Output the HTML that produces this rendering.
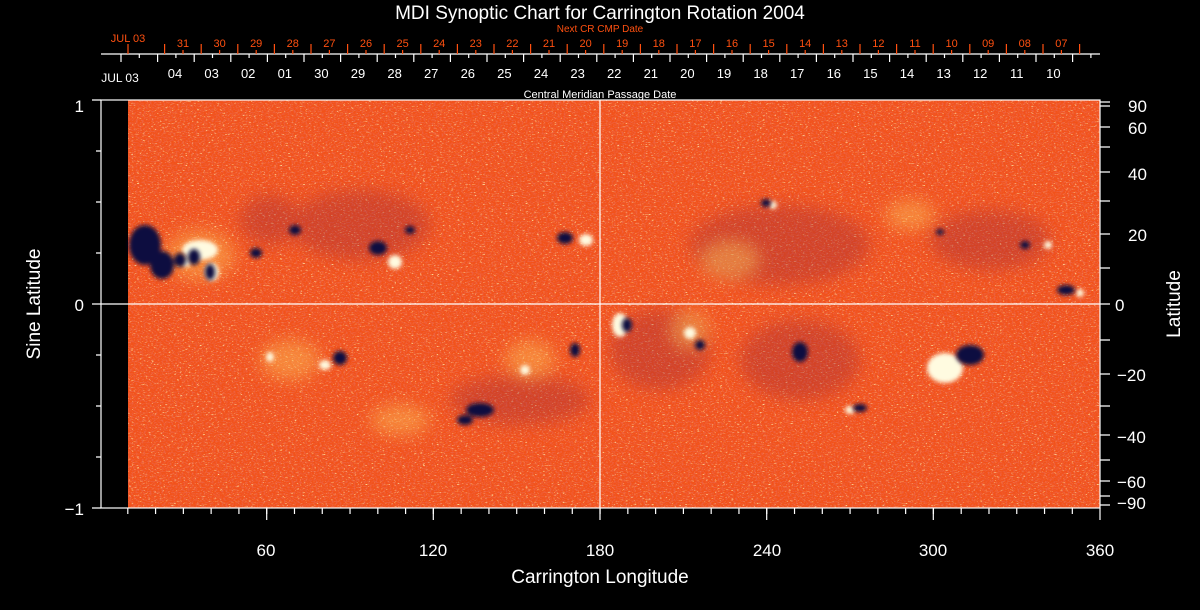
<!DOCTYPE html>
<html><head><meta charset="utf-8"><style>
html,body{margin:0;padding:0;background:#000;}
svg{display:block;font-family:"Liberation Sans",sans-serif;}
</style></head><body>
<svg width="1200" height="610" viewBox="0 0 1200 610" xmlns="http://www.w3.org/2000/svg">
<defs>
<filter id="nz" x="0" y="0" width="100%" height="100%">
<feTurbulence type="fractalNoise" baseFrequency="0.35 0.9" numOctaves="2" seed="3" result="t"/>
<feColorMatrix in="t" type="matrix" values="0 0 0 0 1  0 0 0 0 0.7  0 0 0 0 0.3  0 0 0 6 -3.9"/>
</filter>
<filter id="nz2" x="0" y="0" width="100%" height="100%">
<feTurbulence type="fractalNoise" baseFrequency="0.5 0.8" numOctaves="2" seed="9" result="t"/>
<feColorMatrix in="t" type="matrix" values="0 0 0 0 0.85  0 0 0 0 0.12  0 0 0 0 0.05  0 0 0 5 -2.3"/>
</filter>
<filter id="b1"><feGaussianBlur stdDeviation="2"/></filter>
<filter id="b3"><feGaussianBlur stdDeviation="8"/></filter>
</defs>
<rect width="1200" height="610" fill="#000"/>
<rect x="128" y="100" width="972" height="408" fill="#f2521a"/>
<rect x="128" y="100" width="972" height="408" filter="url(#nz2)"/>
<rect x="128" y="100" width="972" height="408" filter="url(#nz)"/>
<g fill="#902040" opacity="0.3" filter="url(#b3)">
<ellipse cx="360" cy="225" rx="70" ry="35"/>
<ellipse cx="780" cy="245" rx="90" ry="40"/>
<ellipse cx="800" cy="360" rx="60" ry="40"/>
<ellipse cx="520" cy="400" rx="70" ry="25"/>
<ellipse cx="660" cy="350" rx="50" ry="40"/>
<ellipse cx="990" cy="240" rx="60" ry="30"/>
<ellipse cx="270" cy="220" rx="30" ry="25"/>
</g>
<g fill="#ffd060" opacity="0.4" filter="url(#b3)">
<ellipse cx="200" cy="255" rx="35" ry="25"/>
<ellipse cx="290" cy="360" rx="30" ry="20"/>
<ellipse cx="400" cy="420" rx="30" ry="15"/>
<ellipse cx="730" cy="260" rx="30" ry="20"/>
<ellipse cx="910" cy="215" rx="25" ry="15"/>
<ellipse cx="530" cy="360" rx="25" ry="20"/>
<ellipse cx="690" cy="330" rx="20" ry="20"/>
</g>
<g fill="#fffbe0" filter="url(#b1)">
<ellipse cx="200" cy="250" rx="18" ry="10"/>
<ellipse cx="212" cy="272" rx="7" ry="9"/>
<ellipse cx="186" cy="262" rx="5" ry="5"/>
<ellipse cx="395" cy="262" rx="7" ry="7"/>
<ellipse cx="586" cy="240" rx="7" ry="6"/>
<ellipse cx="773" cy="205" rx="4" ry="4"/>
<ellipse cx="620" cy="325" rx="8" ry="12"/>
<ellipse cx="690" cy="333" rx="6" ry="6"/>
<ellipse cx="945" cy="368" rx="18" ry="15"/>
<ellipse cx="325" cy="365" rx="6" ry="5"/>
<ellipse cx="270" cy="357" rx="4" ry="5"/>
<ellipse cx="850" cy="410" rx="5" ry="4"/>
<ellipse cx="1080" cy="293" rx="4" ry="4"/>
<ellipse cx="1048" cy="245" rx="4" ry="4"/>
<ellipse cx="525" cy="370" rx="5" ry="5"/>
</g>
<g fill="#0a0a40" filter="url(#b1)">
<ellipse cx="145" cy="245" rx="16" ry="20"/>
<ellipse cx="162" cy="265" rx="12" ry="14"/>
<ellipse cx="180" cy="260" rx="6" ry="7"/>
<ellipse cx="194" cy="257" rx="6" ry="8"/>
<ellipse cx="210" cy="272" rx="5" ry="8"/>
<ellipse cx="256" cy="253" rx="6" ry="5"/>
<ellipse cx="378" cy="248" rx="9" ry="7"/>
<ellipse cx="565" cy="238" rx="8" ry="6"/>
<ellipse cx="766" cy="203" rx="5" ry="4"/>
<ellipse cx="940" cy="232" rx="4" ry="3"/>
<ellipse cx="1025" cy="245" rx="5" ry="4"/>
<ellipse cx="1066" cy="290" rx="9" ry="5"/>
<ellipse cx="627" cy="325" rx="5" ry="7"/>
<ellipse cx="700" cy="345" rx="5" ry="5"/>
<ellipse cx="800" cy="352" rx="8" ry="10"/>
<ellipse cx="340" cy="358" rx="7" ry="7"/>
<ellipse cx="575" cy="350" rx="5" ry="7"/>
<ellipse cx="480" cy="410" rx="14" ry="7"/>
<ellipse cx="465" cy="420" rx="8" ry="5"/>
<ellipse cx="970" cy="355" rx="14" ry="10"/>
<ellipse cx="860" cy="408" rx="7" ry="4"/>
<ellipse cx="295" cy="230" rx="6" ry="5"/>
<ellipse cx="410" cy="230" rx="5" ry="4"/>
</g>
<g stroke="#fff" stroke-width="1.2" fill="none">
<rect x="101" y="100" width="999" height="408"/>
<line x1="600" y1="100" x2="600" y2="508"/>
<line x1="101" y1="304" x2="1100" y2="304"/>
<line x1="101" y1="54" x2="1100" y2="54"/>
<path d="M92 100h9M92 304h9M92 508h9M96 151h5M96 202h5M96 253h5M96 355h5M96 406h5M96 457h5"/>
<path d="M1100 102h10M1100 106h10M1100 127h10M1100 147h10M1100 172h10M1100 201h10M1100 234h10M1100 268h10M1100 304h10M1100 340h10M1100 374h10M1100 406h10M1100 435h10M1100 460h10M1100 481h10M1100 496h10M1100 505h10"/>
<path d="M127.8 508v6m27.78 -6v6m27.78 -6v6m27.78 -6v6m27.78 -6v6m27.78 -6v6m27.78 -6v6m27.78 -6v6m27.78 -6v6m27.78 -6v6m27.78 -6v6m27.78 -6v6m27.78 -6v6m27.78 -6v6m27.78 -6v6m27.78 -6v6m27.78 -6v6m27.78 -6v6m27.78 -6v6m27.78 -6v6m27.78 -6v6m27.78 -6v6m27.78 -6v6m27.78 -6v6m27.78 -6v6m27.78 -6v6m27.78 -6v6m27.78 -6v6m27.78 -6v6m27.78 -6v6m27.78 -6v6m27.78 -6v6m27.78 -6v6m27.78 -6v6m27.78 -6v6"/>
<path d="M266.7 508v12M433.3 508v12M600 508v12M766.7 508v12M933.3 508v12M1100 508v12"/>
<path d="M121 54v8m36.6 -8v8m36.6 -8v8m36.6 -8v8m36.6 -8v8m36.6 -8v8m36.6 -8v8m36.6 -8v8m36.6 -8v8m36.6 -8v8m36.6 -8v8m36.6 -8v8m36.6 -8v8m36.6 -8v8m36.6 -8v8m36.6 -8v8m36.6 -8v8m36.6 -8v8m36.6 -8v8m36.6 -8v8m36.6 -8v8m36.6 -8v8m36.6 -8v8m36.6 -8v8m36.6 -8v8m36.6 -8v8m36.6 -8v8"/>
<path d="M139.3 54v4m36.6 -4v4m36.6 -4v4m36.6 -4v4m36.6 -4v4m36.6 -4v4m36.6 -4v4m36.6 -4v4m36.6 -4v4m36.6 -4v4m36.6 -4v4m36.6 -4v4m36.6 -4v4m36.6 -4v4m36.6 -4v4m36.6 -4v4m36.6 -4v4m36.6 -4v4m36.6 -4v4m36.6 -4v4m36.6 -4v4m36.6 -4v4m36.6 -4v4m36.6 -4v4m36.6 -4v4m36.6 -4v4m36.6 -4v4"/>
</g>
<g stroke="#ff5010" stroke-width="1.2" fill="none">
<path d="M128 54v-10m36.6 10v-10m36.6 10v-10m36.6 10v-10m36.6 10v-10m36.6 10v-10m36.6 10v-10m36.6 10v-10m36.6 10v-10m36.6 10v-10m36.6 10v-10m36.6 10v-10m36.6 10v-10m36.6 10v-10m36.6 10v-10m36.6 10v-10m36.6 10v-10m36.6 10v-10m36.6 10v-10m36.6 10v-10m36.6 10v-10m36.6 10v-10m36.6 10v-10m36.6 10v-10m36.6 10v-10m36.6 10v-10m36.6 10v-10"/>
<path d="M183 54v-4m36.6 4v-4m36.6 4v-4m36.6 4v-4m36.6 4v-4m36.6 4v-4m36.6 4v-4m36.6 4v-4m36.6 4v-4m36.6 4v-4m36.6 4v-4m36.6 4v-4m36.6 4v-4m36.6 4v-4m36.6 4v-4m36.6 4v-4m36.6 4v-4m36.6 4v-4m36.6 4v-4m36.6 4v-4m36.6 4v-4m36.6 4v-4m36.6 4v-4m36.6 4v-4m36.6 4v-4"/>
</g>
<g fill="#fff" font-size="17" text-anchor="middle">
<text x="266" y="556">60</text><text x="433" y="556">120</text><text x="600" y="556">180</text>
<text x="767" y="556">240</text><text x="933" y="556">300</text><text x="1100" y="556">360</text>
<text x="600" y="583" font-size="19">Carrington Longitude</text>
<text x="600" y="19" font-size="19">MDI Synoptic Chart for Carrington Rotation 2004</text>
<text x="600" y="98" font-size="11">Central Meridian Passage Date</text>
</g>
<g fill="#fff" font-size="13" text-anchor="middle">
<text x="120" y="82" font-size="12">JUL 03</text>
<text x="175" y="78">04</text><text x="211.6" y="78">03</text><text x="248.2" y="78">02</text><text x="284.8" y="78">01</text><text x="321.4" y="78">30</text><text x="358" y="78">29</text><text x="394.6" y="78">28</text><text x="431.2" y="78">27</text><text x="467.8" y="78">26</text><text x="504.4" y="78">25</text><text x="541" y="78">24</text><text x="577.6" y="78">23</text><text x="614.2" y="78">22</text><text x="650.8" y="78">21</text><text x="687.4" y="78">20</text><text x="724" y="78">19</text><text x="760.6" y="78">18</text><text x="797.2" y="78">17</text><text x="833.8" y="78">16</text><text x="870.4" y="78">15</text><text x="907" y="78">14</text><text x="943.6" y="78">13</text><text x="980.2" y="78">12</text><text x="1016.8" y="78">11</text><text x="1053.4" y="78">10</text>
</g>
<g fill="#ff5010" font-size="11" text-anchor="middle">
<text x="128" y="42">JUL 03</text>
<text x="600" y="32" font-size="10">Next CR CMP Date</text>
<text x="183" y="47">31</text><text x="219.6" y="47">30</text><text x="256.2" y="47">29</text><text x="292.8" y="47">28</text><text x="329.4" y="47">27</text><text x="366" y="47">26</text><text x="402.6" y="47">25</text><text x="439.2" y="47">24</text><text x="475.8" y="47">23</text><text x="512.4" y="47">22</text><text x="549" y="47">21</text><text x="585.6" y="47">20</text><text x="622.2" y="47">19</text><text x="658.8" y="47">18</text><text x="695.4" y="47">17</text><text x="732" y="47">16</text><text x="768.6" y="47">15</text><text x="805.2" y="47">14</text><text x="841.8" y="47">13</text><text x="878.4" y="47">12</text><text x="915" y="47">11</text><text x="951.6" y="47">10</text><text x="988.2" y="47">09</text><text x="1024.8" y="47">08</text><text x="1061.4" y="47">07</text>
</g>
<g fill="#fff" font-size="17" text-anchor="end">
<text x="84" y="112">1</text><text x="84" y="311">0</text><text x="84" y="515">−1</text>
</g>
<g fill="#fff" font-size="17" text-anchor="start">
<text x="1128" y="112">90</text><text x="1128" y="134">60</text><text x="1128" y="180">40</text>
<text x="1128" y="241">20</text><text x="1115" y="311">0</text><text x="1117" y="381">−20</text>
<text x="1117" y="443">−40</text><text x="1117" y="488">−60</text><text x="1117" y="509">−90</text>
</g>
<text transform="translate(40,304) rotate(-90)" fill="#fff" font-size="19" text-anchor="middle">Sine Latitude</text>
<text transform="translate(1180,304) rotate(-90)" fill="#fff" font-size="19" text-anchor="middle">Latitude</text>
</svg>
</body></html>
